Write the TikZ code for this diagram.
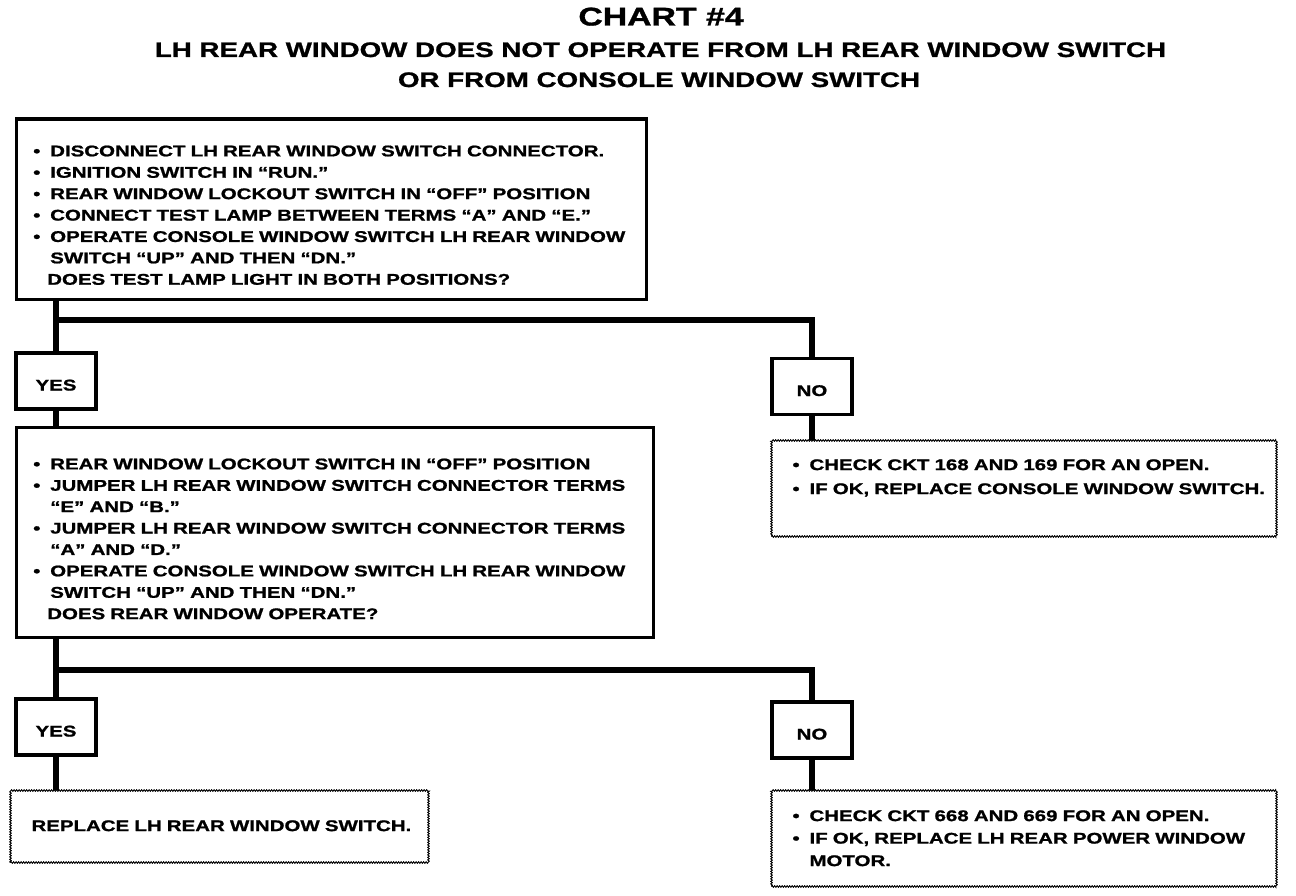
\documentclass[tikz,border=0pt]{standalone}
\usepackage{fontspec}
\newfontfamily\chartfont[FakeStretch=1.32, BoldFeatures={FakeBold=1.2}]{Liberation Sans}
\usetikzlibrary{calc,positioning,decorations.pathmorphing}
\newcommand\itm[1]{\mbox{\makebox[17pt][l]{\textbullet}#1}}
\newcommand\cnt[1]{\mbox{\hspace*{17pt}#1}}
\newcommand\qst[1]{\mbox{\hspace*{14pt}#1}}
\tikzset{
  wire/.style={line width=5.5pt},
  stepbox/.style={draw, line width=3.5pt, anchor=north west, align=left, inner ysep=0pt, inner xsep=17pt,
    font=\chartfont\bfseries\fontsize{15.5}{21.4}\selectfont},
  ansbox/.style={draw, line width=3.5pt, minimum width=80pt, minimum height=56pt, inner sep=0pt,
    text height=19pt, text depth=0pt, font=\chartfont\bfseries\fontsize{15.5}{18}\selectfont},
  fixbox/.style={draw, line width=1pt, decorate, decoration={zigzag, segment length=2.5pt, amplitude=0.7pt},
    anchor=north west, align=left, inner ysep=0pt, inner xsep=21pt,
    font=\chartfont\bfseries\fontsize{15.5}{22.5}\selectfont},
  head/.style={anchor=base, font=\chartfont\bfseries\fontsize{21}{24}\selectfont}
}
\begin{document}
\begin{tikzpicture}[x=1pt,y=-1pt]
  \useasboundingbox (0,0) rectangle (1296,896);
  % title
  \node[head, font=\chartfont\bfseries\fontsize{25.6}{28}\selectfont] (chart) at (661,25.5) {CHART \#4};
  \node[head] (sub1) at (660.5,57) {LH REAR WINDOW DOES NOT OPERATE FROM LH REAR WINDOW SWITCH};
  \node[head] (sub2) at (659,87) {OR FROM CONSOLE WINDOW SWITCH};
  % first check
  \node[stepbox, text width=596pt, text height=37.1pt, text depth=142.9pt] (q1) at (14.5,117.5) {%
    \itm{DISCONNECT LH REAR WINDOW SWITCH CONNECTOR.}\\
    \itm{IGNITION SWITCH IN “RUN.”}\\
    \itm{REAR WINDOW LOCKOUT SWITCH IN “OFF” POSITION}\\
    \itm{CONNECT TEST LAMP BETWEEN TERMS “A” AND “E.”}\\
    \itm{OPERATE CONSOLE WINDOW SWITCH LH REAR WINDOW}\\
    \cnt{SWITCH “UP” AND THEN “DN.”}\\
    \qst{DOES TEST LAMP LIGHT IN BOTH POSITIONS?}};
  \coordinate (j1) at (56,320);
  \node[ansbox] (yes1) at (56,381) {YES};
  \node[ansbox] (no1) at (812,386.5) {NO};
  \node[fixbox, text width=463pt, text height=29.6pt, text depth=66.4pt,
    font=\chartfont\bfseries\fontsize{15.5}{24}\selectfont] (r1) at (771,440) {%
    \itm{CHECK CKT 168 AND 169 FOR AN OPEN.}\\
    \itm{IF OK, REPLACE CONSOLE WINDOW SWITCH.}};
  % second check
  \node[stepbox, text width=603pt, text height=42.1pt, text depth=167.9pt] (q2) at (14.5,425.5) {%
    \itm{REAR WINDOW LOCKOUT SWITCH IN “OFF” POSITION}\\
    \itm{JUMPER LH REAR WINDOW SWITCH CONNECTOR TERMS}\\
    \cnt{“E” AND “B.”}\\
    \itm{JUMPER LH REAR WINDOW SWITCH CONNECTOR TERMS}\\
    \cnt{“A” AND “D.”}\\
    \itm{OPERATE CONSOLE WINDOW SWITCH LH REAR WINDOW}\\
    \cnt{SWITCH “UP” AND THEN “DN.”}\\
    \qst{DOES REAR WINDOW OPERATE?}};
  \coordinate (j2) at (56,670);
  \node[ansbox] (yes2) at (56,727) {YES};
  \node[ansbox] (no2) at (812,730) {NO};
  \node[fixbox, text width=376pt, text height=40.6pt, text depth=31.4pt] (r3) at (10,790) {%
    \mbox{REPLACE LH REAR WINDOW SWITCH.}};
  \node[fixbox, text width=463pt, text height=30.6pt, text depth=65.4pt] (r4) at (771,790) {%
    \itm{CHECK CKT 668 AND 669 FOR AN OPEN.}\\
    \itm{IF OK, REPLACE LH REAR POWER WINDOW}\\
    \cnt{MOTOR.}};
  % connectors
  \draw[wire] (q1.south -| j1) -- (yes1.north);
  \draw[wire] (j1) -| (no1.north);
  \draw[wire] (no1.south) -- (no1.south |- r1.north);
  \draw[wire] (yes1.south) -- (yes1.south |- q2.north);
  \draw[wire] (q2.south -| j2) -- (yes2.north);
  \draw[wire] (j2) -| (no2.north);
  \draw[wire] (yes2.south) -- (yes2.south |- r3.north);
  \draw[wire] (no2.south) -- (no2.south |- r4.north);
\end{tikzpicture}
\end{document}
